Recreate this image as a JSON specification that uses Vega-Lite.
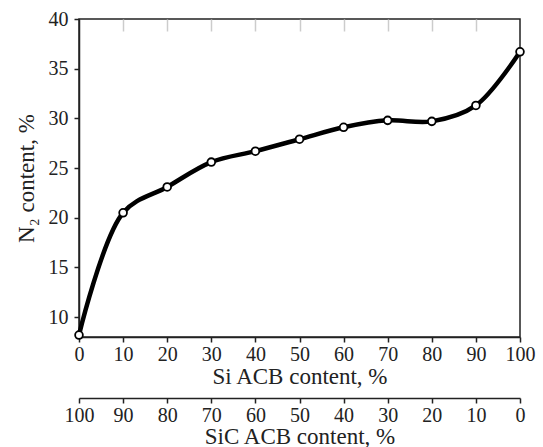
{
  "$schema": "https://vega.github.io/schema/vega-lite/v6.json",
  "width": 441,
  "height": 318,
  "autosize": {"type": "none"},
  "padding": {"left": 79, "top": 19, "right": 23, "bottom": 110},
  "background": "white",
  "config": {
    "view": {"stroke": "#222", "strokeWidth": 1.5},
    "font": "Liberation Serif",
    "axis": {
      "labelFont": "Liberation Serif",
      "titleFont": "Liberation Serif",
      "labelFontSize": 20,
      "titleFontSize": 23,
      "titleFontWeight": "normal",
      "labelColor": "#222",
      "titleColor": "#222",
      "domainColor": "#222",
      "tickColor": "#222",
      "domainWidth": 1.5,
      "tickWidth": 1.5,
      "tickSize": 5,
      "grid": false
    }
  },
  "data": {
    "values": [
      {"si": 0, "sic": 100, "n2": 8.2},
      {"si": 10, "sic": 90, "n2": 20.5},
      {"si": 20, "sic": 80, "n2": 23.1},
      {"si": 30, "sic": 70, "n2": 25.6},
      {"si": 40, "sic": 60, "n2": 26.7},
      {"si": 50, "sic": 50, "n2": 27.9},
      {"si": 60, "sic": 40, "n2": 29.1},
      {"si": 70, "sic": 30, "n2": 29.8},
      {"si": 80, "sic": 20, "n2": 29.7},
      {"si": 90, "sic": 10, "n2": 31.3},
      {"si": 100, "sic": 0, "n2": 36.7}
    ]
  },
  "layer": [
    {
      "mark": {"type": "line", "interpolate": "catmull-rom", "color": "black", "strokeWidth": 4.5, "clip": false},
      "encoding": {
        "x": {
          "field": "si", "type": "quantitative",
          "scale": {"domain": [0, 100], "nice": false},
          "axis": {
            "title": "Si ACB content, %",
            "values": [0, 10, 20, 30, 40, 50, 60, 70, 80, 90, 100],
            "labelPadding": 2,
            "titlePadding": 1,
            "labelFlush": false
          }
        },
        "y": {
          "field": "n2", "type": "quantitative",
          "scale": {"domain": [8, 40], "nice": false, "zero": false},
          "axis": {
            "title": "N₂ content, %",
            "values": [10, 15, 20, 25, 30, 35, 40],
            "labelPadding": 6,
            "titlePadding": 10,
            "labelFlush": false
          }
        }
      }
    },
    {
      "mark": {"type": "point", "filled": true, "fill": "white", "stroke": "black", "strokeWidth": 1.8, "size": 60, "opacity": 1, "clip": false},
      "encoding": {
        "x": {"field": "si", "type": "quantitative", "scale": {"domain": [0, 100], "nice": false}, "axis": null},
        "y": {"field": "n2", "type": "quantitative"}
      }
    },
    {
      "mark": {"type": "point", "opacity": 0},
      "encoding": {
        "x": {
          "field": "si", "type": "quantitative",
          "scale": {"domain": [0, 100], "nice": false},
          "axis": {
            "orient": "top",
            "title": null,
            "labels": false,
            "domain": false,
            "values": [10, 20, 30, 40, 50, 60, 70, 80, 90],
            "tickSize": -12,
            "tickColor": "#cccccc",
            "tickWidth": 1.5
          }
        },
        "y": {"field": "n2", "type": "quantitative"}
      }
    },
    {
      "mark": {"type": "point", "opacity": 0},
      "encoding": {
        "x": {
          "field": "sic", "type": "quantitative",
          "scale": {"domain": [100, 0], "nice": false},
          "axis": {
            "orient": "bottom",
            "offset": 61,
            "title": "SiC ACB content, %",
            "values": [100, 90, 80, 70, 60, 50, 40, 30, 20, 10, 0],
            "labelPadding": 2,
            "titlePadding": 0,
            "labelFlush": false
          }
        },
        "y": {"field": "n2", "type": "quantitative"}
      }
    }
  ],
  "resolve": {"scale": {"x": "independent"}, "axis": {"x": "independent"}}
}
